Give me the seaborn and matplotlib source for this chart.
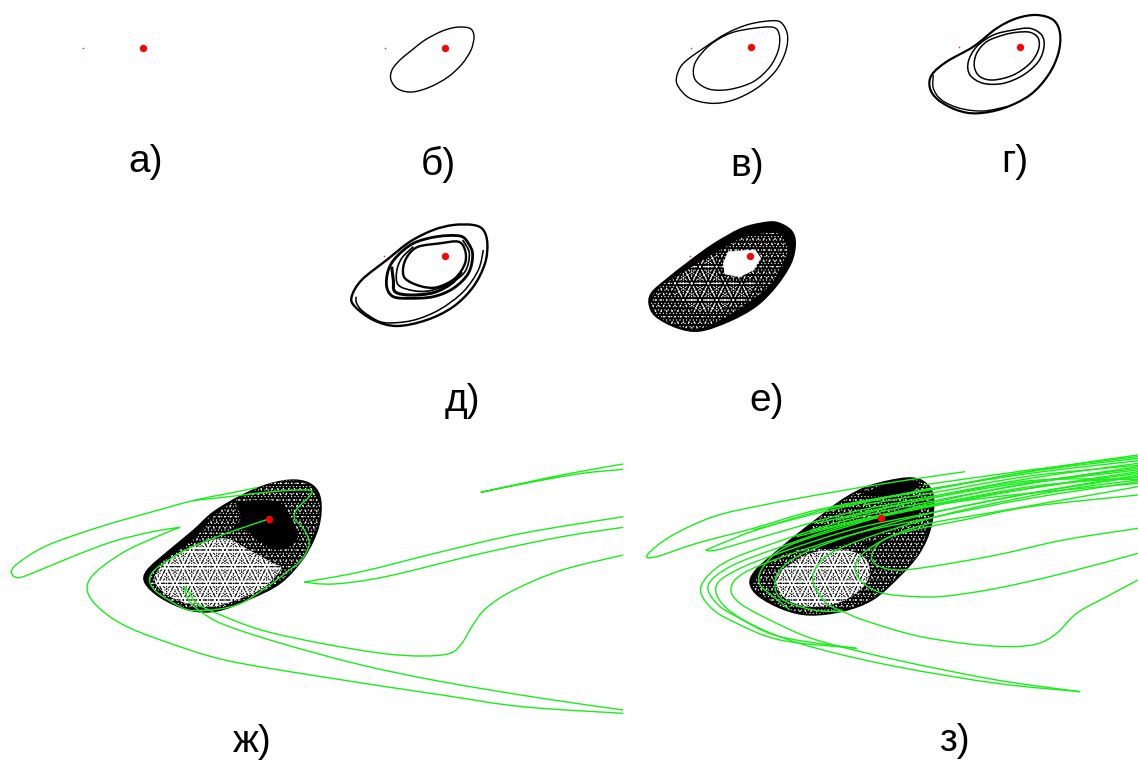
import matplotlib
matplotlib.use("Agg")
import matplotlib.pyplot as plt
from matplotlib.path import Path
from matplotlib.patches import PathPatch
import seaborn as sns

sns.set_theme(style="white")
plt.rcParams["font.family"] = ["Liberation Sans", "DejaVu Sans"]

# Panel labels
labels = ["а)", "б)", "в)", "г)", "д)", "е)", "ж)", "з)"]
label_x = [146, 438, 747, 1015, 462, 767, 252, 954]
label_y = [162, 164, 166, 162, 401, 401, 742, 741]

# Fixed points
dots_x = [143, 445, 751, 1020, 445, 750, 269, 881]
dots_y = [48, 48, 47, 47, 256, 256, 519, 518]
faint_x = [83, 385, 691, 959, 384, 690, 208, 820]
faint_y = [48, 48, 48, 47, 256, 256, 518, 518]

# Closed invariant curves, image pixels
b_x = [462, 471, 474, 471, 462, 448, 430, 412, 398, 391, 392, 400, 412, 425, 440, 452]
b_y = [27, 29, 37, 50, 64, 77, 87, 92, 89, 80, 70, 60, 50, 40, 32, 28]

v1 = [(405,62),(430,75),(443,110),(435,160),(405,215),(350,265),(280,300),(215,310),(150,295),(115,260),(110,230),(130,190),(190,145),(260,100),(330,72)]
v2 = [(400,82),(418,105),(415,150),(390,200),(340,245),(270,268),(210,268),(170,245),(160,215),(170,180),(210,135),(270,100),(340,85)]

g1 = [(1190,45),(1240,60),(1260,100),(1255,160),(1225,225),(1170,285),(1090,325),(1010,340),(950,330),(895,300),(870,265),(875,225),(920,185),(1000,140),(1070,85),(1130,55)]
g2 = [(880,225),(880,265),(905,300),(960,325),(1030,333),(1100,320)]
g3 = [(1170,85),(1205,105),(1212,140),(1195,185),(1150,225),(1090,250),(1030,250),(990,225),(985,185),(1010,140),(1060,105),(1120,90)]
g4 = [(1170,97),(1195,115),(1195,150),(1170,190),(1120,225),(1060,240),(1020,230),(1003,200),(1010,160),(1040,125),(1090,105),(1130,97)]

d1 = [(430,75),(460,90),(472,130),(465,190),(430,260),(370,320),(290,360),(200,378),(130,360),(75,320),(65,290),(95,240),(170,180),(240,125),(310,90),(370,75)]
d2 = [(78,290),(80,310),(100,335),(150,365),(200,368),(260,358),(330,328),(400,275),(445,210),(460,150)]
d3 = [(390,108),(415,130),(428,165),(415,220),(370,265),(310,290),(240,295),(190,290),(170,260),(175,210),(200,170),(250,130),(320,110)]
d4 = [(385,125),(405,150),(405,190),(375,235),(320,262),(270,258),(225,235),(220,200),(235,165),(265,140),(330,130)]
d5 = [(185,200),(190,240),(195,275),(240,285),(310,278),(365,250),(395,215)]
d6 = [(398,120),(418,160),(405,215),(360,250),(300,272),(250,272),(205,255),(200,215),(215,175),(250,140)]

e_out = [(1340,65),(1385,90),(1398,130),(1385,190),(1340,260),(1280,320),(1200,365),(1110,395),(1040,385),(975,350),(955,310),(965,275),(1010,235),(1080,180),(1150,130),(1230,85),(1290,68)]
e_hole = [(1195,155),(1275,150),(1292,175),(1270,210),(1230,230),(1185,222),(1180,190)]
e_sparse = [(1060,215),(1180,145),(1240,112),(1340,100),(1372,140),(1362,190),(1320,255),(1260,305),(1190,350),(1110,385),(1040,378),(980,345),(962,310),(985,265)]
e_light = [(1040,235),(1150,170),(1170,230),(1240,250),(1290,225),(1240,300),(1150,330),(1080,320),(1040,280)]

zh_out = [(735,118),(780,135),(800,180),(795,260),(760,350),(700,430),(620,480),(540,515),(470,512),(400,475),(360,430),(365,390),(420,330),(480,270),(530,215),(600,165),(670,130)]
zh_light = [(385,410),(430,350),(490,315),(560,295),(620,330),(680,370),(700,385),(660,440),(600,475),(530,500),(470,492),(410,460)]
zh_mid = [(480,300),(540,220),(610,165),(700,122),(770,135),(795,190),(790,255),(755,355),(695,425),(610,478),(530,508),(470,505),(405,468),(370,420),(400,370)]
zh_dark = [(590,190),(650,180),(700,190),(725,240),(740,300),(690,330),(640,300),(610,270),(570,275),(600,235)]

z_out = [(830,112),(885,125),(912,170),(905,260),(870,340),(810,410),(730,480),(640,515),(540,527),(460,510),(385,470),(358,430),(375,390),(430,340),(490,290),(560,235),(640,175),(720,135)]
z_light = [(440,410),(500,360),(560,335),(640,330),(700,350),(720,400),(690,450),(620,490),(530,500),(460,470)]
z_mid = [(620,195),(700,150),(830,120),(885,130),(905,175),(895,255),(868,335),(805,408),(725,476),(635,510),(540,522),(460,502),(395,465),(370,430),(430,360),(520,325),(640,310),(780,215),(560,270),(560,240)]
z_band1 = [(530,318),(640,262),(760,222),(865,200),(850,240),(780,272),(700,300),(600,322)]
z_band2 = [(690,165),(760,135),(830,120),(870,132),(840,155),(760,170)]
z_band3 = [(690,315),(790,282),(780,300),(730,320)]

# Green separatrices of panel ж (zoomed pixels)
zh_g1 = [(672,236),(600,265),(530,295),(470,325),(420,360),(385,390),(372,420),(385,450),(420,480),(470,510),(540,508),(600,490),(660,445),(710,400),(750,360),(770,310),(755,265),(733,235),(740,205),(770,170),(775,152),(740,150),(680,155),(640,160),(570,170),(480,182)]
zh_g2 = [(640,143),(570,160),(480,182),(380,215),(250,260),(120,315),(50,365),(28,395),(45,413),(90,395),(180,350),(280,305),(380,275),(448,262),(400,285),(310,335),(240,395),(217,440),(235,490),(300,550),(400,600),(560,660),(800,710),(1100,765),(1300,800),(1552,820)]
zh_g3 = [(1552,810),(1350,775),(1100,725),(900,675),(700,610),(560,555),(500,515),(470,480),(458,440),(470,455),(490,490),(540,520),(650,570),(800,610),(950,640),(1050,648),(1120,640),(1150,610),(1175,560),(1210,505),(1280,450),(1400,390),(1552,345)]
zh_g4 = [(1552,230),(1300,280),(1100,335),(900,395),(758,426),(830,432),(960,410),(1200,340),(1400,290),(1552,262)]
zh_g5 = [(1552,72),(1420,100),(1300,130),(1197,157),(1330,125),(1450,100),(1552,88)]

# Green separatrices of panel з (zoomed pixels)
z_g1 = [(1005,95),(800,125),(600,158),(400,195),(250,230),(120,290),(52,345),(80,350),(200,310),(370,265),(560,210),(800,165),(1000,130),(1250,85),(1524,45)]
z_g2 = [(1524,55),(1200,95),(900,150),(600,205),(380,270),(300,300),(228,330),(260,330),(400,290),(650,220),(900,170),(1200,115),(1524,70)]
z_g3 = [(1524,80),(1200,130),(900,185),(650,240),(430,310),(280,370),(213,440),(240,500),(310,545),(450,600),(680,625)]
z_g4 = [(1524,95),(1200,145),(900,200),(650,255),(440,325),(300,380),(235,435),(260,490),(320,530),(450,590),(680,625)]
z_g5 = [(1524,110),(1200,160),(920,215),(680,265),(460,335),(320,390),(258,440),(290,505),(400,570),(560,625),(800,680),(1100,730),(1350,755)]
z_g6 = [(1524,125),(1200,175),(920,230),(680,280),(460,350),(340,400),(303,445),(330,490),(430,545),(560,600),(800,660),(1100,720),(1350,755)]
z_g7 = [(1524,265),(1300,300),(1100,345),(900,380),(800,390),(740,375),(725,345),(760,300),(850,270),(1000,240),(1200,200),(1524,165)]
z_g8 = [(1524,340),(1300,400),(1100,445),(950,468),(860,470),(760,460),(700,430),(675,385),(700,340),(780,290),(900,250),(1100,215),(1524,140)]
z_g9 = [(1524,420),(1430,470),(1340,520),(1280,580),(1220,612),(1130,620),(1000,610),(850,585),(700,540),(640,515),(590,490),(550,430),(560,380),(620,330),(780,270),(1000,210),(1300,150),(1524,120)]
z_g10 = [(640,515),(550,510),(460,480),(435,440),(450,390),(520,340),(680,280),(900,220),(1200,160),(1524,105)]
z_g11 = [(480,510),(430,470),(388,430),(400,380),(470,320),(650,260),(900,190),(1200,130),(1524,90)]
z_g12 = [(880,150),(1200,100),(1524,62)]
z_g13 = [(880,135),(1200,90),(1524,50)]
z_g14 = [(850,205),(1200,140),(1524,112)]
z_g15 = [(700,195),(900,160),(1200,108),(1524,76)]
z_g16 = [(560,250),(800,195),(1100,140),(1524,85)]
z_g17 = [(500,290),(760,225),(1100,160),(1524,100)]
z_g18 = [(620,240),(900,175),(1200,122),(1524,118)]
z_g19 = [(540,275),(800,215),(1100,170),(1524,130)]
z_g20 = [(370,270),(560,220),(760,175),(900,145)]


def to_px(pts, ox, oy, sx=3.0, sy=3.0):
    return [ox + p[0] / sx for p in pts], [oy + p[1] / sy for p in pts]


def smooth_path(xs, ys, close=False):
    """Bezier path through the read points; sharp tips stay sharp."""
    P = list(zip(xs, ys))
    n = len(P)
    def at(i):
        return P[i % n] if close else P[max(0, min(n - 1, i))]
    def tangents(i):
        a, b, c = at(i - 1), at(i), at(i + 1)
        u = (b[0] - a[0], b[1] - a[1])
        v = (c[0] - b[0], c[1] - b[1])
        nu = (u[0] ** 2 + u[1] ** 2) ** 0.5
        nv = (v[0] ** 2 + v[1] ** 2) ** 0.5
        if nu > 0 and nv > 0 and (u[0] * v[0] + u[1] * v[1]) / (nu * nv) < -0.7:
            return (0, 0)
        return ((c[0] - a[0]) / 6, (c[1] - a[1]) / 6)
    verts = [P[0]]
    codes = [Path.MOVETO]
    segs = n if close else n - 1
    for i in range(segs):
        p, q = at(i), at(i + 1)
        tp, tq = tangents(i), tangents(i + 1)
        verts += [(p[0] + tp[0], p[1] + tp[1]), (q[0] - tq[0], q[1] - tq[1]), q]
        codes += [Path.CURVE4] * 3
    return Path(verts, codes)


def curve(ax, xy, color="black", lw=0.9, close=False):
    ax.add_patch(PathPatch(smooth_path(xy[0], xy[1], close), facecolor="none", edgecolor=color,
                           linewidth=lw, zorder=5 if color != "black" else 3))


def solid(ax, xy, z=2.4):
    ax.add_patch(PathPatch(smooth_path(xy[0], xy[1], True), facecolor="black", edgecolor="black",
                           linewidth=0, zorder=z))


def speckle(ax, xy, hatches, base=None, ink="white", z=2.2):
    if base is not None:
        ax.add_patch(PathPatch(smooth_path(xy[0], xy[1], True), facecolor=base, edgecolor="none",
                               linewidth=0, zorder=z))
    for h in hatches:
        ax.add_patch(PathPatch(smooth_path(xy[0], xy[1], True), facecolor="none",
                               edgecolor=ink, hatch=h, linewidth=0, zorder=z + 0.05))


plt.rcParams["hatch.linewidth"] = 0.4
fig = plt.figure(figsize=(11.38, 7.6), dpi=100)
ax = fig.add_axes([0, 0, 1, 1])

# Closed curves of the upper panels
curve(ax, (b_x, b_y), lw=1.0, close=True)
for pts, lw in [(v1, 1.0), (v2, 1.0)]:
    curve(ax, to_px(pts, 640, 0), lw=lw, close=True)
for pts, lw, cl in [(g1, 1.6, True), (g2, 1.0, False), (g3, 1.1, True), (g4, 1.1, True)]:
    curve(ax, to_px(pts, 640, 0), lw=lw, close=cl)
for pts, lw, cl in [(d1, 1.7, True), (d2, 1.1, False), (d3, 2.0, True), (d4, 1.7, True), (d5, 2.2, False), (d6, 1.2, False)]:
    curve(ax, to_px(pts, 330, 200), lw=lw, close=cl)

# Filled chaotic attractors
sparse = ["...", "....."]
inked = ["...", "....", "....."]

# panel е
solid(ax, to_px(e_out, 330, 200), 2)
speckle(ax, to_px(e_sparse, 330, 200), sparse)
speckle(ax, to_px(e_light, 330, 200), ["..", "...."])
ax.fill(*to_px(e_hole, 330, 200), facecolor="white", edgecolor="white", linewidth=0.5, zorder=2.5)

# panel ж
solid(ax, to_px(zh_out, 0, 440, sx=2.49), 2)
speckle(ax, to_px(zh_mid, 0, 440, sx=2.49), sparse)
speckle(ax, to_px(zh_light, 0, 440, sx=2.49), inked, base="white", ink="black", z=2.3)
solid(ax, to_px(zh_dark, 0, 440, sx=2.49))

# panel з
solid(ax, to_px(z_out, 630, 440), 2)
speckle(ax, to_px(z_mid, 630, 440), sparse)
speckle(ax, to_px(z_light, 630, 440), inked, base="white", ink="black", z=2.3)
for band in [z_band1, z_band2, z_band3]:
    solid(ax, to_px(band, 630, 440))

# Green curves
GREEN = "#1aee1a"
for pts in [zh_g1, zh_g2, zh_g3, zh_g4, zh_g5]:
    curve(ax, to_px(pts, 0, 440, sx=2.49), color=GREEN, lw=1.0)
for pts in [z_g1, z_g2, z_g3, z_g4, z_g5, z_g6, z_g7, z_g8, z_g9, z_g10, z_g11, z_g12, z_g13,
            z_g14, z_g15, z_g16, z_g17, z_g18, z_g19, z_g20]:
    curve(ax, to_px(pts, 630, 440), color=GREEN, lw=1.0)

# Fixed points
sns.scatterplot(x=faint_x, y=faint_y, color="#ff3030", s=1.5, linewidth=0, ax=ax, legend=False, zorder=6)
sns.scatterplot(x=dots_x, y=dots_y, color="#ff0000", s=28, linewidth=0, ax=ax, legend=False, zorder=7)

for t, x, y in zip(labels, label_x, label_y):
    ax.text(x, y, t, fontsize=28, color="black", ha="center", va="center")

ax.set_xlim(0, 1138)
ax.set_ylim(760, 0)
ax.axis("off")
fig.savefig("out.png", dpi=100, facecolor="white")
